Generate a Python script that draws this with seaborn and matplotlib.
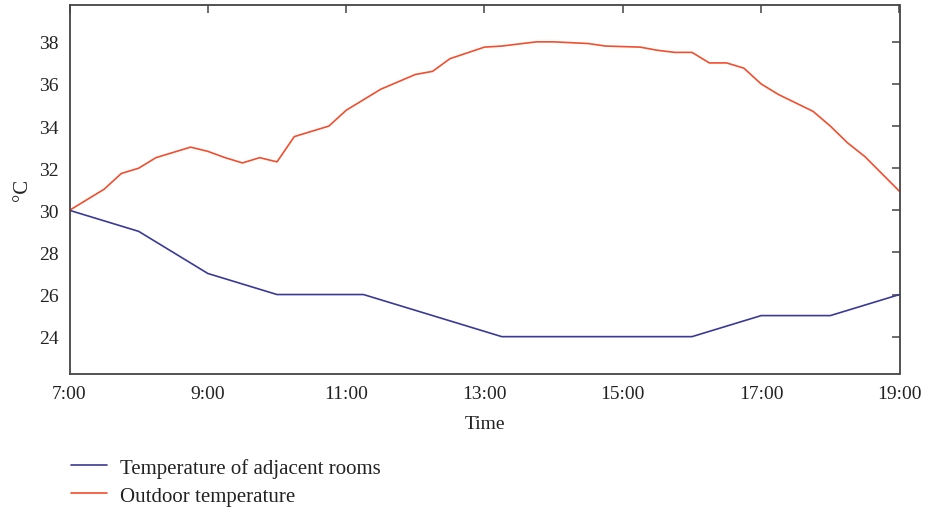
import numpy as np
import pandas as pd
import matplotlib
matplotlib.use("Agg")
import matplotlib.pyplot as plt
import seaborn as sns

# Readings by time of day (decimal hours)
room_hours = [7.0, 8.0, 9.0, 10.0, 11.25, 13.25, 16.0, 17.0, 18.0, 19.0]
room_temp = [30.0, 29.0, 27.0, 26.0, 26.0, 24.0, 24.0, 25.0, 25.0, 26.0]

outdoor_hours = [7.0, 7.5, 7.75, 8.0, 8.25, 8.75, 9.0, 9.25, 9.5, 9.75, 10.0,
                 10.25, 10.75, 11.0, 11.5, 12.0, 12.25, 12.5, 13.0, 13.25,
                 13.75, 14.0, 14.5, 14.75, 15.25, 15.5, 15.75, 16.0, 16.25,
                 16.5, 16.75, 17.0, 17.25, 17.5, 17.75, 18.0, 18.25, 18.5, 19.0]
outdoor_temp = [30.0, 31.0, 31.75, 32.0, 32.5, 33.0, 32.8, 32.5, 32.25, 32.5, 32.3,
                33.5, 34.0, 34.75, 35.75, 36.45, 36.6, 37.2, 37.75, 37.8,
                38.0, 38.0, 37.92, 37.8, 37.75, 37.6, 37.5, 37.5, 37.0,
                37.0, 36.75, 36.0, 35.5, 35.1, 34.7, 34.0, 33.2, 32.55, 30.9]

series_names = ["Temperature of adjacent rooms", "Outdoor temperature"]
series_colors = ["#3a3a96", "#f24e2e"]

x_ticks = [7, 9, 11, 13, 15, 17, 19]
x_tick_labels = ["7:00", "9:00", "11:00", "13:00", "15:00", "17:00", "19:00"]
y_ticks = [24, 26, 28, 30, 32, 34, 36, 38]

df = pd.concat([
    pd.DataFrame({"hour": room_hours, "temp": room_temp, "series": series_names[0]}),
    pd.DataFrame({"hour": outdoor_hours, "temp": outdoor_temp, "series": series_names[1]}),
], ignore_index=True)

sns.set_theme(style="white")
plt.rcParams["font.family"] = ["Liberation Serif", "DejaVu Serif"]

fig = plt.figure(figsize=(9.27, 5.10), dpi=100)
ax = fig.add_axes([69.5 / 927, 1 - 374.5 / 510, (899.5 - 69.5) / 927, (374.5 - 6) / 510])

sns.lineplot(data=df, x="hour", y="temp", hue="series", hue_order=series_names,
             palette=series_colors, linewidth=1.2, ax=ax, legend=False, sort=False)

ax.set_xlim(7, 19)
ax.set_ylim(22.25, 39.75)
ax.set_xticks(x_ticks)
ax.set_xticklabels(x_tick_labels)
ax.set_yticks(y_ticks)
ax.tick_params(direction="in", length=6, width=1.1, color="#444444",
               top=True, right=True, labelsize=14, labelcolor="#222222", pad=8)
for s in ax.spines.values():
    s.set_visible(True)
    s.set_color("#444444")
    s.set_linewidth(1.3)

ax.set_xlabel("Time", fontsize=14, color="#222222", labelpad=10)
ax.set_ylabel("°C", fontsize=15, color="#222222", labelpad=5)

handles = [plt.Line2D([], [], color=c, linewidth=1.2) for c in series_colors]
fig.legend(handles, series_names, loc="upper left", bbox_to_anchor=(52 / 927, 1 - 440 / 510),
           frameon=False, fontsize=15, handlelength=1.75, handletextpad=0.62,
           labelspacing=0.4, labelcolor="#222222")

fig.savefig("out.png", dpi=100)
